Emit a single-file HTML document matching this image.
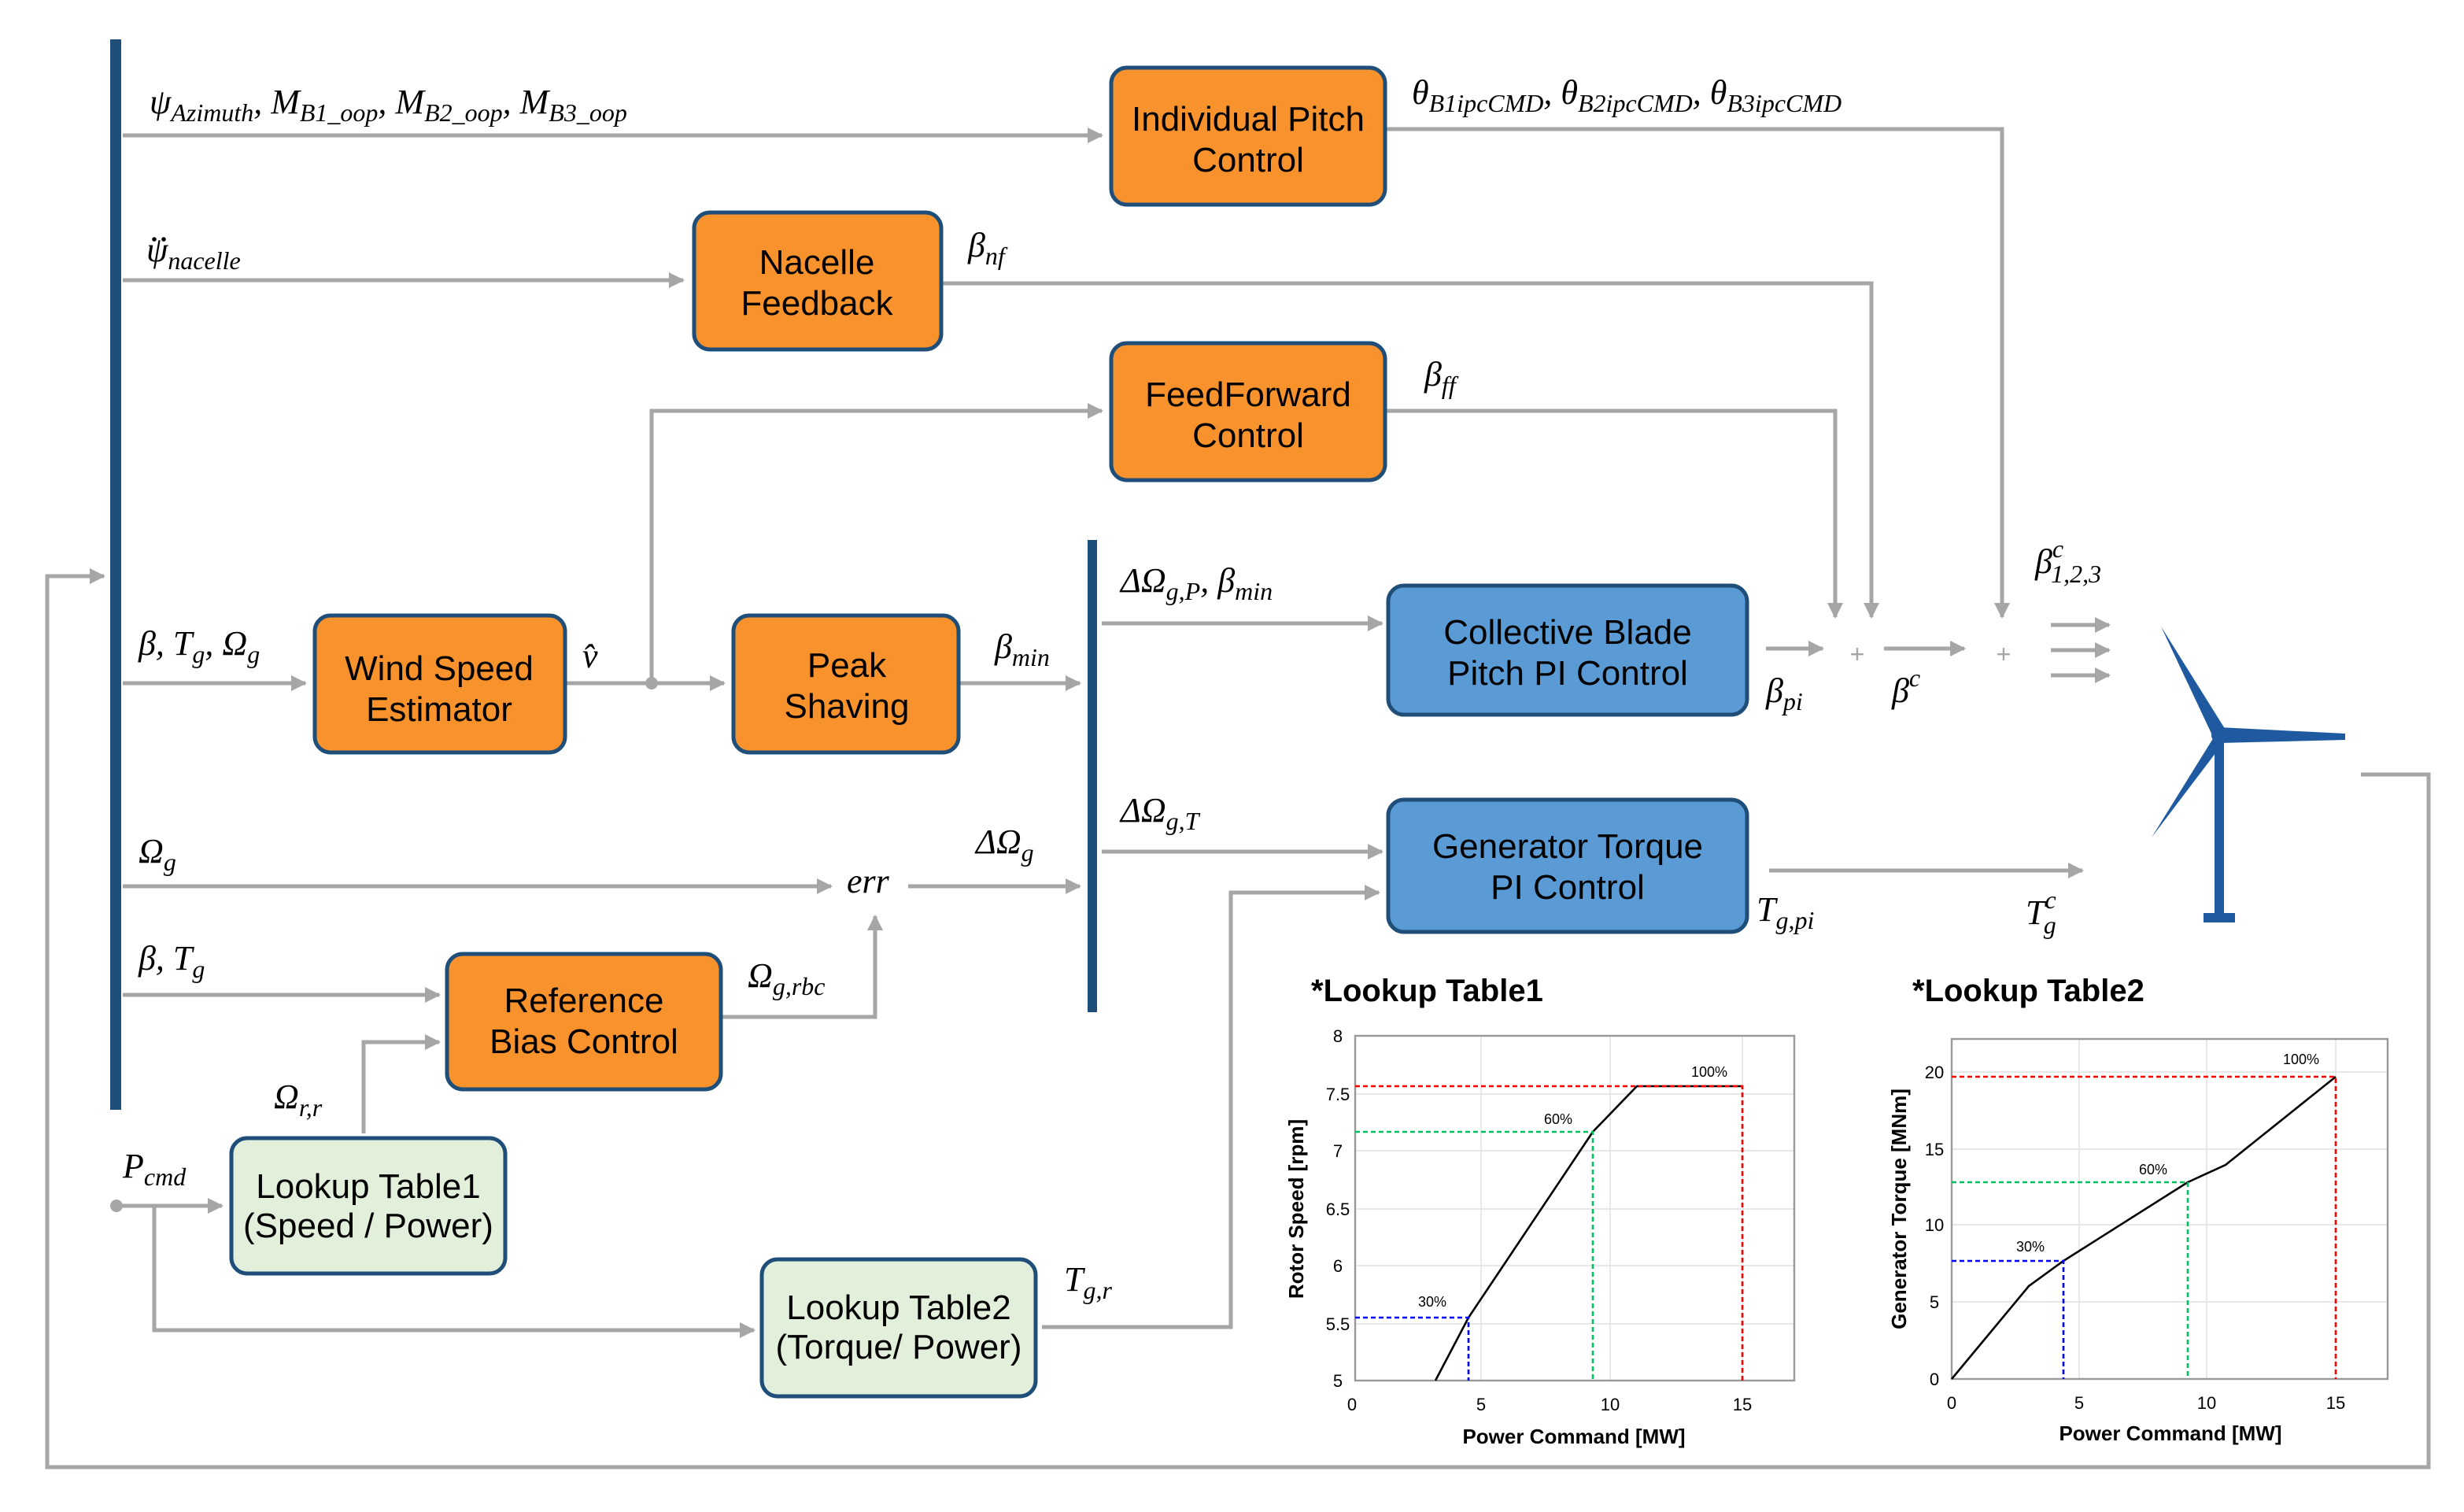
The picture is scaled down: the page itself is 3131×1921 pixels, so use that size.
<!DOCTYPE html>
<html><head><meta charset="utf-8"><style>
html,body{margin:0;padding:0;background:#fff}
svg{display:block}
.b{font-family:"Liberation Sans",sans-serif;font-size:22px;fill:#000;text-anchor:middle}
.m{font-family:"Liberation Serif",serif;font-style:italic;font-size:22px;fill:#000}
.s{font-size:16px}
.t{font-family:"Liberation Sans",sans-serif;font-size:11px;fill:#000;text-anchor:middle}
.h{font-family:"Liberation Sans",sans-serif;font-weight:bold;font-size:20px;fill:#000}
</style></head><body>
<svg width="3131" height="1921" viewBox="0 0 1565.5 960.5" xmlns="http://www.w3.org/2000/svg">
<defs>
<marker id="a" markerWidth="10" markerHeight="10" refX="9" refY="5" orient="auto" markerUnits="userSpaceOnUse"><path d="M0,0 L10,5 L0,10 z" fill="#a6a6a6"/></marker>
</defs>
<g stroke="#a6a6a6" stroke-width="2.5" fill="none">
<path d="M78,86H700" marker-end="url(#a)"/>
<path d="M880,82H1272V392" marker-end="url(#a)"/>
<path d="M78,178H434" marker-end="url(#a)"/>
<path d="M598,180H1189V392" marker-end="url(#a)"/>
<path d="M880,261H1166V392" marker-end="url(#a)"/>
<path d="M414,433V261H700" marker-end="url(#a)"/>
<path d="M78,434H194" marker-end="url(#a)"/>
<path d="M359,434H460" marker-end="url(#a)"/>
<path d="M609,434H686" marker-end="url(#a)"/>
<path d="M78,563H528" marker-end="url(#a)"/>
<path d="M577,563H686" marker-end="url(#a)"/>
<path d="M78,632H279" marker-end="url(#a)"/>
<path d="M458,646H556V582" marker-end="url(#a)"/>
<path d="M231,720V662H279" marker-end="url(#a)"/>
<path d="M74,766H141" marker-end="url(#a)"/>
<path d="M98,766V845H479" marker-end="url(#a)"/>
<path d="M662,843H782V567H876" marker-end="url(#a)"/>
<path d="M700,396H878" marker-end="url(#a)"/>
<path d="M700,541H878" marker-end="url(#a)"/>
<path d="M1122,412H1158" marker-end="url(#a)"/>
<path d="M1197,412H1248" marker-end="url(#a)"/>
<path d="M1303,397H1340" marker-end="url(#a)"/>
<path d="M1303,413H1340" marker-end="url(#a)"/>
<path d="M1303,429H1340" marker-end="url(#a)"/>
<path d="M1124,553H1323" marker-end="url(#a)"/>
<path d="M1500,492H1543V932H30V366H66" marker-end="url(#a)"/>
</g>
<circle cx="414" cy="434" r="4" fill="#a6a6a6"/>
<circle cx="74" cy="766" r="4" fill="#a6a6a6"/>
<text x="1180" y="421" font-family="Liberation Sans" font-size="16" fill="#a6a6a6" text-anchor="middle">+</text>
<text x="1273" y="421" font-family="Liberation Sans" font-size="16" fill="#a6a6a6" text-anchor="middle">+</text>
<rect x="70" y="25" width="7" height="680" fill="#1f4e79"/>
<rect x="691" y="343" width="6" height="300" fill="#1f4e79"/>
<g stroke="#1f4e79" stroke-width="2.5">
<rect x="706" y="43" width="174" height="87" rx="10" fill="#f7922c"/>
<rect x="441" y="135" width="157" height="87" rx="10" fill="#f7922c"/>
<rect x="706" y="218" width="174" height="87" rx="10" fill="#f7922c"/>
<rect x="200" y="391" width="159" height="87" rx="10" fill="#f7922c"/>
<rect x="466" y="391" width="143" height="87" rx="10" fill="#f7922c"/>
<rect x="284" y="606" width="174" height="86" rx="10" fill="#f7922c"/>
<rect x="882" y="372" width="228" height="82" rx="10" fill="#5b9bd5"/>
<rect x="882" y="508" width="228" height="84" rx="10" fill="#5b9bd5"/>
<rect x="147" y="723" width="174" height="86" rx="10" fill="#e2efda"/>
<rect x="484" y="800" width="174" height="87" rx="10" fill="#e2efda"/>
</g>
<text class="b" x="793" y="83">Individual Pitch</text><text class="b" x="793" y="109">Control</text>
<text class="b" x="519" y="174">Nacelle</text><text class="b" x="519" y="200">Feedback</text>
<text class="b" x="793" y="258">FeedForward</text><text class="b" x="793" y="284">Control</text>
<text class="b" x="279" y="432">Wind Speed</text><text class="b" x="279" y="458">Estimator</text>
<text class="b" x="538" y="430">Peak</text><text class="b" x="538" y="456">Shaving</text>
<text class="b" x="371" y="643">Reference</text><text class="b" x="371" y="669">Bias Control</text>
<text class="b" x="996" y="409">Collective Blade</text><text class="b" x="996" y="435">Pitch PI Control</text>
<text class="b" x="996" y="545">Generator Torque</text><text class="b" x="996" y="571">PI Control</text>
<text class="b" x="234" y="761">Lookup Table1</text><text class="b" x="234" y="786" font-size="19">(Speed / Power)</text>
<text class="b" x="571" y="838">Lookup Table2</text><text class="b" x="571" y="863" font-size="19">(Torque/ Power)</text>
<text class="m" x="95" y="72">ψ<tspan class="s" dy="5">Azimuth</tspan><tspan dy="-5">, M</tspan><tspan class="s" dy="5">B1_oop</tspan><tspan dy="-5">, M</tspan><tspan class="s" dy="5">B2_oop</tspan><tspan dy="-5">, M</tspan><tspan class="s" dy="5">B3_oop</tspan></text>
<text class="m" x="897" y="66">θ<tspan class="s" dy="5">B1ipcCMD</tspan><tspan dy="-5">, θ</tspan><tspan class="s" dy="5">B2ipcCMD</tspan><tspan dy="-5">, θ</tspan><tspan class="s" dy="5">B3ipcCMD</tspan></text>
<text class="m" x="93" y="166">ψ<tspan class="s" dy="5">nacelle</tspan></text>
<circle cx="98" cy="152" r="1.4" fill="#000"/><circle cx="104" cy="152" r="1.4" fill="#000"/>
<text class="m" x="615" y="163">β<tspan class="s" dy="5">nf</tspan></text>
<text class="m" x="905" y="245">β<tspan class="s" dy="5">ff</tspan></text>
<text class="m" x="88" y="416">β, T<tspan class="s" dy="5">g</tspan><tspan dy="-5">, Ω</tspan><tspan class="s" dy="5">g</tspan></text>
<text class="m" x="370" y="424">v̂</text>
<text class="m" x="632" y="418">β<tspan class="s" dy="5">min</tspan></text>
<text class="m" x="712" y="376">ΔΩ<tspan class="s" dy="5">g,P</tspan><tspan dy="-5">, β</tspan><tspan class="s" dy="5">min</tspan></text>
<text class="m" x="712" y="522">ΔΩ<tspan class="s" dy="5">g,T</tspan></text>
<text class="m" x="88" y="548">Ω<tspan class="s" dy="5">g</tspan></text>
<text class="m" x="538" y="567" font-size="15" fill="#888">err</text>
<text class="m" x="620" y="542">ΔΩ<tspan class="s" dy="5">g</tspan></text>
<text class="m" x="88" y="616">β, T<tspan class="s" dy="5">g</tspan></text>
<text class="m" x="475" y="627">Ω<tspan class="s" dy="5">g,rbc</tspan></text>
<text class="m" x="174" y="704">Ω<tspan class="s" dy="5">r,r</tspan></text>
<text class="m" x="78" y="748">P<tspan class="s" dy="5">cmd</tspan></text>
<text class="m" x="676" y="820">T<tspan class="s" dy="5">g,r</tspan></text>
<text class="m" x="1122" y="446">β<tspan class="s" dy="5">pi</tspan></text>
<text class="m" x="1202" y="446">β<tspan class="s" dy="-10">c</tspan></text>
<text class="m" x="1293" y="364">β<tspan class="s" dy="-10">c</tspan><tspan class="s" dx="-8" dy="16">1,2,3</tspan></text>
<text class="m" x="1116" y="585">T<tspan class="s" dy="5">g,pi</tspan></text>
<text class="m" x="1287" y="587">T<tspan class="s" dy="-10">c</tspan><tspan class="s" dx="-8" dy="16">g</tspan></text>
<g fill="#1f5aa0">
<rect x="1407" y="466" width="6" height="118"/>
<rect x="1400" y="580" width="20" height="6"/>
<path d="M1373,398 L1413,462 L1406,468 Z"/>
<path d="M1410,462 L1490,466 L1490,470 L1410,472 Z"/>
<path d="M1408,466 L1414,470 L1367,532 Z"/>
<circle cx="1410" cy="467" r="5"/>
</g>
<text class="h" x="833" y="636">*Lookup Table1</text>
<g stroke="#e8e8e8" stroke-width="1">
<path d="M941,658V877M1023,658V877M1107,658V877M861,695H1140M861,731H1140M861,768H1140M861,804H1140M861,841H1140"/>
</g>
<rect x="861" y="658" width="279" height="219" fill="none" stroke="#999" stroke-width="1.2"/>
<path d="M912,877 L933,837 L1012,719 L1040,690 L1107,690" fill="none" stroke="#000" stroke-width="1.3"/>
<g fill="none" stroke-dasharray="3,2" stroke-width="1.3">
<path d="M861,837H933V877" stroke="#00f"/>
<path d="M861,719H1012V877" stroke="#00c060"/>
<path d="M861,690H1107V877" stroke="#f00"/>
</g>
<g class="t"><text x="910" y="830" font-size="9">30%</text><text x="990" y="714" font-size="9">60%</text><text x="1086" y="684" font-size="9">100%</text>
<text x="859" y="896">0</text><text x="941" y="896">5</text><text x="1023" y="896">10</text><text x="1107" y="896">15</text>
<text x="850" y="881">5</text><text x="850" y="845">5.5</text><text x="850" y="808">6</text><text x="850" y="772">6.5</text><text x="850" y="735">7</text><text x="850" y="699">7.5</text><text x="850" y="662">8</text>
<text x="1000" y="917" font-size="13" font-weight="bold">Power Command [MW]</text>
<text transform="translate(828,768) rotate(-90)" font-size="13" font-weight="bold">Rotor Speed [rpm]</text></g>
<text class="h" x="1215" y="636">*Lookup Table2</text>
<g stroke="#e8e8e8" stroke-width="1">
<path d="M1321,660V876M1402,660V876M1484,660V876M1240,681H1517M1240,730H1517M1240,778H1517M1240,827H1517"/>
</g>
<rect x="1240" y="660" width="277" height="216" fill="none" stroke="#999" stroke-width="1.2"/>
<path d="M1240,876 L1289,817 L1311,801 L1390,751 L1414,740 L1484,684" fill="none" stroke="#000" stroke-width="1.3"/>
<g fill="none" stroke-dasharray="3,2" stroke-width="1.3">
<path d="M1240,801H1311V876" stroke="#00f"/>
<path d="M1240,751H1390V876" stroke="#00c060"/>
<path d="M1240,684H1484V876" stroke="#f00"/>
</g>
<g class="t"><text x="1290" y="795" font-size="9">30%</text><text x="1368" y="746" font-size="9">60%</text><text x="1462" y="676" font-size="9">100%</text>
<text x="1240" y="895">0</text><text x="1321" y="895">5</text><text x="1402" y="895">10</text><text x="1484" y="895">15</text>
<text x="1229" y="880">0</text><text x="1229" y="831">5</text><text x="1229" y="782">10</text><text x="1229" y="734">15</text><text x="1229" y="685">20</text>
<text x="1379" y="915" font-size="13" font-weight="bold">Power Command [MW]</text>
<text transform="translate(1211,768) rotate(-90)" font-size="13" font-weight="bold">Generator Torque [MNm]</text></g>
</svg>
</body></html>
